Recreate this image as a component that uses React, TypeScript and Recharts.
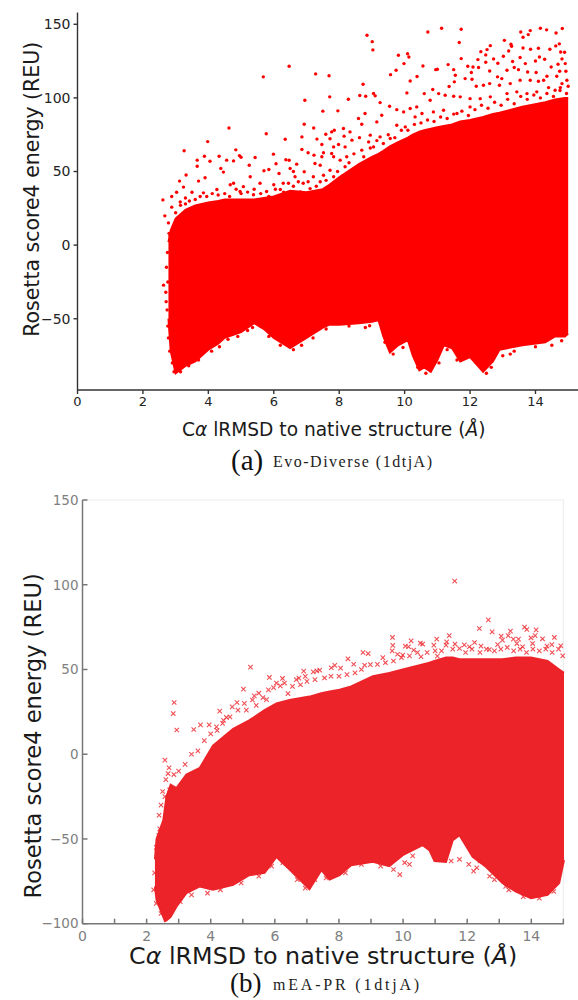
import { ComposedChart, Area, Scatter, XAxis, YAxis, CartesianGrid, Label } from 'recharts';

const evoX = [2.78, 2.85, 3.0, 3.3, 3.6, 4, 4.3, 4.5, 5, 5.4, 5.7, 6, 6.5, 7, 7.5, 7.7, 8, 8.6, 9, 9.2, 9.35, 9.55, 9.8, 10.1, 10.25, 10.45, 10.6, 10.8, 11, 11.2, 11.45, 11.7, 12, 12.4, 12.7, 12.9, 13.6, 14.3, 14.6, 14.9, 15];
const evoLow = [-50, -72, -87, -82, -79, -71, -67, -63, -59, -53, -57, -63, -70, -63, -56, -54, -54, -53, -52, -51, -62, -73, -68, -64.5, -75, -85, -83, -86, -78, -68, -70, -79, -76, -86, -79, -71, -68, -66, -62, -62, -60];
const evoHigh = [2, 10, 18, 24, 27, 29, 30, 31, 31, 31, 32, 33, 37, 36, 38, 41, 46, 55, 60, 62, 64, 67, 70, 73, 75, 77, 78, 79, 80, 81, 82, 84, 85, 87, 89, 90, 94, 97, 99, 100, 100];

// Individually visible points above and below the solid part.
const evoSparse: [number, number][] = [
  [8.85, 142.5], [9.01, 138.2], [9.03, 132.6], [10.71, 144.8], [11.13, 147.3], [11.73, 146.6], [11.67, 137.6], [11.73, 126.7],
  [9.81, 129], [10.09, 130], [10.13, 127.8], [9.98, 123.3], [10.56, 121.7], [11.33, 122.6], [11, 119.5], [10.95, 119.2],
  [9.74, 118.8], [9.57, 115.8], [7.28, 116.3], [7.69, 115], [10.38, 114.5], [10.17, 111.5], [8.73, 109.3], [11.5, 119.2],
  [11.55, 115.4], [11.52, 110.9], [11.36, 107.7], [7.71, 100.7], [6.95, 98.4], [8.28, 99.1], [9.05, 103], [9.1, 101.4],
  [8.63, 101.6], [8.81, 101.1], [10.07, 103.4], [7.5, 91], [7.96, 91.2], [6.93, 82.1], [7.22, 79.6], [6.86, 73.5], [6.86, 65],
  [14.15, 147.3], [14.34, 146.2], [14.82, 147.1], [14.63, 144.1], [13.55, 144.8], [13.84, 145.7], [13.62, 141.2], [13.78, 143],
  [13.05, 139.1], [13.25, 136.4], [13.27, 135.1], [12.62, 135.5], [12.52, 132.8], [12.33, 131.4], [12.48, 129.2], [12.24, 126],
  [12.72, 126.5], [12.48, 124.2], [12.85, 123.5], [13.02, 128.3], [13.18, 131.9], [13.3, 124.7], [13.62, 133.9], [13.85, 133],
  [14.09, 133.7], [14.44, 133], [14.62, 135.3], [14.73, 136.7], [14.77, 131.2], [14.89, 131], [14.81, 126.5], [14.28, 126.2],
  [14.12, 127.8], [14, 125.1], [13.53, 127.4], [13.69, 123.3],
  [11.93, 121.5], [12.09, 121], [12.26, 120.6], [12.6, 118.3], [12.04, 117.2], [11.85, 113.1], [12.06, 112.7], [12.19, 107.9],
  [12.41, 108.6], [12.6, 109.7], [12.84, 114.3], [12.97, 113.1], [13.13, 118.8], [13.35, 120.6], [13.48, 119.2], [13.76, 117.6],
  [14.02, 117.2], [14.35, 114.7], [14.25, 112], [14.48, 121], [14.69, 122.9], [14.91, 123.3], [14.74, 118.1], [14.93, 118.1],
  [14.65, 114.7], [14.96, 112], [14.81, 109.7], [12.9, 108.6], [13.23, 109.7], [13.53, 112], [13.84, 112], [14.09, 111.3],
  [14.4, 107], [14.6, 105.2], [14.76, 107], [15, 107.9], [13.13, 102.9], [13.43, 104.1], [13.74, 102.9], [14.04, 104.1],
  [12.62, 100.7], [12.31, 99.5], [12, 99.5], [11.7, 100.7], [11.5, 101.1], [11.24, 101.8], [11.04, 102.9], [10.86, 105.7],
  [10.6, 102.9], [10.78, 98.4], [10.37, 93.9], [10.17, 92.8], [9.97, 90.5], [9.76, 92], [9.54, 94.3], [9.25, 96.8],
  [8.59, 86], [8.79, 89.4], [8.69, 82.1], [9.15, 83.7], [9.3, 88.2], [9.76, 81.4], [10.02, 80.3], [10.32, 87.1], [10.53, 89.4],
  [10.88, 90.5], [11.19, 91.6], [11.6, 89.4], [12, 93.9],
  [8.13, 79.2], [8.33, 76.9], [8.15, 74], [7.59, 75.3], [7.77, 76.9], [7.85, 78], [7.72, 72.2], [7.32, 72], [7.47, 68.3],
  [7.83, 66.7], [7.98, 68.3], [8.18, 66.7], [8.39, 71.3], [8.62, 73], [8.95, 74.7], [9.25, 73.5], [9.56, 72.4], [8.9, 70.1],
  [7.05, 62.7], [7.23, 61.1], [7.52, 62.7], [7.77, 62.2], [7.47, 60], [7.26, 55.4], [7.42, 54.3], [7.83, 60], [8.03, 57.7],
  [8.23, 60], [8.69, 64.5], [9.05, 66.7], [6.7, 55], [6.93, 49.8], [6.5, 52], [6.65, 46.4], [7.21, 46.4], [7.72, 50.9],
  [8.18, 53.2], [7.83, 46.4], [7.52, 47.5], [7.42, 43], [7.11, 38.4], [6.81, 36.2], [7.93, 40.7], [7.67, 38.4],
  [6.47, 121.5], [5.68, 114.3], [4.63, 79.6], [3.98, 70.3], [5.77, 75.6], [6.35, 71.9], [3.26, 64.1], [4.84, 64.7], [4.95, 60.8],
  [5, 59.7], [3.88, 60.4], [4.33, 60.4], [5.43, 59.5], [5.99, 61.8], [3.66, 57.7], [3.66, 53.6], [4.05, 57], [4.56, 57.7],
  [4.77, 57.2], [5.25, 54.3], [6.37, 58], [6.47, 57.6], [6.07, 55.3], [3.32, 47.6], [5.7, 50.5], [5.85, 51.4], [6.16, 48.6],
  [4.38, 52.1], [3.12, 43.5], [3.24, 39.4], [2.61, 30.7], [2.88, 33], [3.03, 35.9],
  [2.78, 15.1], [2.83, 6.6], [2.88, 25.8], [3.14, 29.3], [3.3, 32], [3.5, 35.9], [3.7, 43.5], [3.9, 45.8], [4.46, 49.6],
  [4.77, 42], [5.07, 39.7], [5.28, 46.4], [5.58, 42], [6, 41], [6.29, 42], [6.6, 50], [6.75, 43], [3.85, 35.5], [4.26, 37.8],
  [4.67, 41], [4.97, 36.4], [5.38, 34.2], [5.78, 36.4], [6.2, 37.8], [2.67, 19.9], [2.63, -27.2], [2.71, -38.4],
  [9.95, -69.5], [13, -75.1], [13.23, -74], [8.93, -54.8], [4.34, -69],
  // band just above the solid edge
  [3.0, 22], [3.15, 27], [3.3, 28], [3.42, 30], [3.6, 31], [3.75, 33], [3.95, 33], [4.12, 35], [4.3, 34], [4.5, 35], [4.65, 33],
  [4.85, 38], [5.0, 35], [5.2, 36], [5.4, 38], [5.6, 35], [5.85, 33], [6.05, 38], [6.3, 36], [6.45, 42], [6.6, 40],
  [6.9, 42], [7.05, 43], [7.3, 40], [7.6, 44], [7.95, 50], [8.1, 47], [8.3, 56], [8.45, 62], [8.75, 60], [8.95, 66], [9.15, 71],
  [9.35, 69], [9.5, 75], [9.7, 73], [9.9, 78], [10.1, 78], [10.3, 82], [10.5, 83], [10.7, 85], [10.9, 84], [11.1, 87], [11.3, 86],
  [11.5, 89], [11.75, 91], [11.95, 88], [12.15, 92], [12.35, 95], [12.55, 93], [12.75, 97], [12.95, 95], [13.15, 99], [13.35, 96],
  [13.55, 101], [13.75, 99], [13.95, 102], [14.15, 100], [14.35, 103], [14.55, 101], [14.75, 105], [14.95, 103],
  // left edge
  [2.8, 8], [2.75, -5], [2.72, -15], [2.76, -25], [2.7, -32], [2.74, -44], [2.76, -55], [2.78, -63], [2.82, -72], [2.9, -80], [2.95, -86],
  // lower edge
  [3.15, -86], [3.4, -82], [3.7, -78], [4.1, -72], [4.6, -64], [4.9, -62], [5.2, -58], [5.35, -56], [5.6, -55], [5.85, -62],
  [6.2, -68], [6.6, -71], [6.85, -68], [7.2, -63], [7.6, -57], [8.3, -55], [8.8, -56], [9.4, -66], [9.65, -74], [10.4, -83],
  [10.65, -87], [11.05, -80], [11.3, -71], [11.6, -78], [12.2, -80], [12.5, -87], [12.65, -83], [13.35, -72], [14, -69], [14.5, -68], [14.8, -65],
];

const meaX = [2.26, 2.31, 2.52, 2.57, 2.62, 2.75, 2.93, 3.24, 3.66, 4.07, 4.7, 5.2, 5.68, 6.05, 6.46, 7.08, 7.45, 7.71, 8.02, 8.38, 9.06, 9.57, 9.99, 10.61, 10.82, 10.98, 11.34, 11.55, 11.76, 12.17, 12.59, 13.1, 13.52, 13.99, 14.51, 14.87, 15.02];
const meaLow = [-78, -86, -96, -98.5, -98, -96, -90, -82, -78, -80, -77, -71.4, -70, -60.6, -68, -79.6, -68.4, -74, -71.4, -65.5, -63.5, -66, -59.6, -53.7, -56.6, -63, -63.5, -50.7, -47.8, -60.6, -66.5, -76, -81, -85, -83, -76, -62.5];
const meaHigh = [-62, -50, -39, -32, -25, -18, -20, -12, -8, 5, 15, 20, 26, 30, 32, 34, 36, 37, 38, 40, 46, 48, 50, 53, 54, 55, 57, 57, 56, 56, 56, 56, 57, 57, 55, 50, 48];

const meaSparse: [number, number][] = [
  [11.61, 102.1], [12.66, 79.3], [12.38, 74.2], [12.78, 72.2], [13.79, 75], [13.86, 73.6], [14.15, 73.4], [13.35, 72.6],
  [13.06, 69.7], [11.44, 70], [11.05, 67.9], [9.67, 68.9], [10.25, 66.9], [10.54, 65.5], [10.61, 65], [10.96, 64.4],
  [9.68, 64.2], [10.07, 63.8], [10.17, 63.4], [9.66, 61], [10.33, 61.4], [8.75, 60], [8.91, 59.4], [8.28, 56.3], [9.37, 57],
  [7.87, 52.4], [7.76, 51], [8.05, 50.8], [7.4, 49.6], [7.31, 49.2], [7.2, 48.6], [6.9, 49], [6.95, 45.9], [6.75, 44.9],
  [6.67, 44], [8.46, 53.1], [8.8, 52.5], [8.98, 52.9],
  [14.72, 68.9], [14.35, 68.1], [13.99, 68.7], [14.12, 70], [13.6, 67.9], [13.44, 67.9], [13.55, 65.3], [13.28, 70], [13.1, 67.3],
  [12.95, 64.7], [12.23, 65.9], [11.91, 64.5], [11.62, 65], [11.36, 66.3], [11.34, 64.4], [14.92, 64], [14.49, 63.8], [14.64, 64.7],
  [14.04, 65.3], [13.73, 63.4], [12.69, 61.8], [12.43, 63.8], [12.07, 63.4], [11.76, 62.4], [11.07, 57.9], [10.56, 57.5], [9.99, 58.5], [9.83, 59],
  [2.86, 30.5], [2.83, 24], [2.94, 14.3], [5.24, 51.4], [5.02, 38.4], [5.83, 45.3], [6.24, 44.7], [5.36, 34.4], [5.96, 39.3],
  [6.17, 40.3], [5.63, 33.4], [4.28, 25.4], [4.82, 30.5], [3.47, 14.6], [3.68, 17.3], [3.95, 17.3], [4.18, 16.1], [4.37, 18.2],
  [4.49, 21.7], [4.67, 27.9], [5.11, 26], [5.42, 28.8], [5.74, 32.2], [6.41, 35.8],
  [2.57, -3.5], [2.67, -11.4], [2.72, -21], [2.57, -25], [2.39, -36], [2.41, -44],
  [9.9, -71], [10.05, -64], [10.2, -65], [11.5, -63], [11.76, -62], [12.05, -65], [12.3, -67], [12.4, -63], [12.2, -69], [12.7, -72], [12.85, -74], [13.2, -78],
  // band just above the solid edge
  [3.0, -10], [3.2, -6], [3.4, 0], [3.6, 2], [3.8, 8], [4.0, 12], [4.2, 14], [4.4, 20], [4.6, 22], [4.85, 26], [5.05, 30],
  [5.3, 32], [5.5, 36], [5.8, 38], [6.05, 42], [6.3, 42], [6.55, 40], [6.8, 41], [7.0, 43], [7.25, 44], [7.55, 45], [7.75, 46],
  [8.0, 46], [8.25, 47], [8.5, 48], [8.7, 50], [9.2, 53], [9.45, 54], [9.7, 55], [9.95, 57], [10.2, 58], [10.45, 60], [10.75, 60],
  [11.0, 61], [11.2, 61], [11.55, 62], [11.95, 60], [12.15, 62], [12.4, 60], [12.6, 62], [12.85, 61], [13.05, 62], [13.25, 63],
  [13.45, 61], [13.65, 62], [13.85, 60], [14.05, 62], [14.25, 61], [14.45, 62], [14.65, 60], [14.85, 62], [14.98, 58],
  // left edge
  [2.25, -70], [2.3, -55], [2.38, -48], [2.45, -30], [2.5, -22], [2.6, -15], [2.22, -80], [2.3, -88], [2.45, -94], [2.7, -8], [2.85, -12],
  // lower edge
  [3.05, -87], [3.4, -83], [3.9, -82], [4.3, -80], [4.95, -76], [5.5, -72], [5.9, -66], [6.25, -64], [6.7, -74], [6.95, -79], [7.25, -74],
  [7.6, -73], [8.2, -70], [8.7, -65], [9.3, -66], [9.7, -68], [10.3, -60], [13.3, -80], [13.75, -84], [14.25, -85], [14.7, -81],
];

const evoXTicks = [0, 2, 4, 6, 8, 10, 12, 14];
const evoYTicks = [-50, 0, 50, 100, 150];
const meaXTicks = [0, 1, 2, 3, 4, 5, 6, 7, 8, 9, 10, 11, 12, 13, 14, 15];
const meaYTicks = [-100, -50, 0, 50, 100, 150];

const band = (xs: number[], low: number[], high: number[]) => xs.map((x, i) => ({ x, range: [low[i], high[i]] }));
const points = (rows: [number, number][]) => rows.map(([x, y]) => ({ x, y }));
const minus = (v: number) => String(v).replace('-', '\u2212');

const SANS = '"DejaVu Sans", sans-serif';
const SERIF = '"Liberation Serif", serif';

const Dot = ({ cx, cy }: any) => <circle cx={cx} cy={cy} r={1.7} fill="#ff0000" />;
const Cross = ({ cx, cy }: any) => (
  <path d={`M${cx - 2.2} ${cy - 2.2}L${cx + 2.2} ${cy + 2.2}M${cx - 2.2} ${cy + 2.2}L${cx + 2.2} ${cy - 2.2}`} stroke="#ec2329" strokeOpacity={0.8} strokeWidth={1.1} fill="none" />
);

const XTitle = ({ viewBox, size, dy, dx = 0 }: any) => (
  <text x={viewBox.x + viewBox.width / 2 + dx} y={viewBox.y + dy} textAnchor="middle" fontFamily={SANS} fontSize={size} fill="#1a1a1a">
    C<tspan fontStyle="italic">α</tspan> lRMSD to native structure (<tspan fontStyle="italic">Å</tspan>)
  </text>
);

const YTitle = ({ viewBox, size, x, dy = 0, text }: any) => {
  const y = viewBox.y + viewBox.height / 2 + dy;
  return (
    <text x={x} y={y} transform={`rotate(-90 ${x} ${y})`} textAnchor="middle" fontFamily={SANS} fontSize={size} fill="#1a1a1a">
      {text}
    </text>
  );
};

function Caption({ tag, name, top, left, spacing, size }: { tag: string; name: string; top: number; left: number; spacing: number; size: number }) {
  return (
    <>
      <div style={{ position: 'absolute', top, left, fontFamily: SERIF, fontSize: size, lineHeight: '28px', color: '#111', whiteSpace: 'nowrap' }}>{tag}</div>
      <div style={{ position: 'absolute', top: top + 6, left: 273, fontFamily: SERIF, fontSize: 16, lineHeight: '20px', letterSpacing: spacing, color: '#222', whiteSpace: 'nowrap' }}>{name}</div>
    </>
  );
}

export default function App() {
  return (
    <div style={{ position: 'absolute', left: 0, top: 0, width: 578, height: 1000, background: '#fff', overflow: 'hidden' }}>
      <div style={{ position: 'absolute', left: 0, top: 0 }}>
        <ComposedChart width={578} height={445} data={band(evoX, evoLow, evoHigh)} margin={{ top: 12.5, right: 0, bottom: 0, left: 0 }}>
          <XAxis
            dataKey="x"
            type="number"
            domain={[0, 15.3]}
            ticks={evoXTicks}
            tickSize={4}
            tickMargin={3}
            height={55}
            interval={0}
            stroke="#333"
            strokeWidth={1.4}
            tick={{ fontFamily: SANS, fontSize: 13, fill: '#222' }}
          >
            <Label content={<XTitle size={18.6} dy={46} dx={6} />} />
          </XAxis>
          <YAxis
            type="number"
            domain={[-98.4, 158]}
            ticks={evoYTicks}
            width={77.5}
            tickSize={4}
            tickMargin={3}
            interval={0}
            stroke="#333"
            strokeWidth={1.4}
            tickFormatter={minus}
            tick={{ fontFamily: SANS, fontSize: 14, fill: '#222' }}
          >
            <Label content={<YTitle size={20.5} x={27} dy={-12} text="Rosetta score4 energy (REU)" />} />
          </YAxis>
          <Area dataKey="range" type="linear" fill="#ff0000" fillOpacity={1} stroke="#ff0000" strokeWidth={2} dot={false} activeDot={false} isAnimationActive={false} />
          <Scatter data={points(evoSparse)} dataKey="y" shape={<Dot />} isAnimationActive={false} />
        </ComposedChart>
      </div>
      <Caption tag="(a)" name="Evo-Diverse (1dtjA)" top={446} left={231} spacing={1.5} size={29} />

      <div style={{ position: 'absolute', left: 0, top: 490 }}>
        <ComposedChart width={578} height={480} data={band(meaX, meaLow, meaHigh)} margin={{ top: 10, right: 14, bottom: 0, left: 0 }}>
          <CartesianGrid horizontalValues={[150]} verticalValues={[15]} stroke="#ececec" />
          <XAxis
            dataKey="x"
            type="number"
            domain={[0, 15]}
            ticks={meaXTicks}
            tickSize={-5}
            tickMargin={12}
            height={46.3}
            interval={0}
            stroke="#777"
            strokeWidth={1.5}
            tickFormatter={(v: number) => (v % 2 === 0 ? String(v) : '')}
            tick={{ fontFamily: SANS, fontSize: 14, fill: '#808080' }}
          >
            <Label content={<XTitle size={23.8} dy={40} dx={0} />} />
          </XAxis>
          <YAxis
            type="number"
            domain={[-100, 150]}
            ticks={meaYTicks}
            width={82.5}
            tickSize={-5}
            tickMargin={9}
            interval={0}
            stroke="#777"
            strokeWidth={1.5}
            tickFormatter={minus}
            tick={{ fontFamily: SANS, fontSize: 13.5, fill: '#808080' }}
          >
            <Label content={<YTitle size={22.6} x={32} dy={24} text="Rosetta score4 energy (REU)" />} />
          </YAxis>
          <Area dataKey="range" type="linear" fill="#ec2329" fillOpacity={1} stroke="#ec2329" strokeWidth={2} dot={false} activeDot={false} isAnimationActive={false} />
          <Scatter data={points(meaSparse)} dataKey="y" shape={<Cross />} isAnimationActive={false} />
        </ComposedChart>
      </div>
      <Caption tag="(b)" name="mEA-PR (1dtjA)" top={969} left={230} spacing={2.8} size={27} />
    </div>
  );
}
